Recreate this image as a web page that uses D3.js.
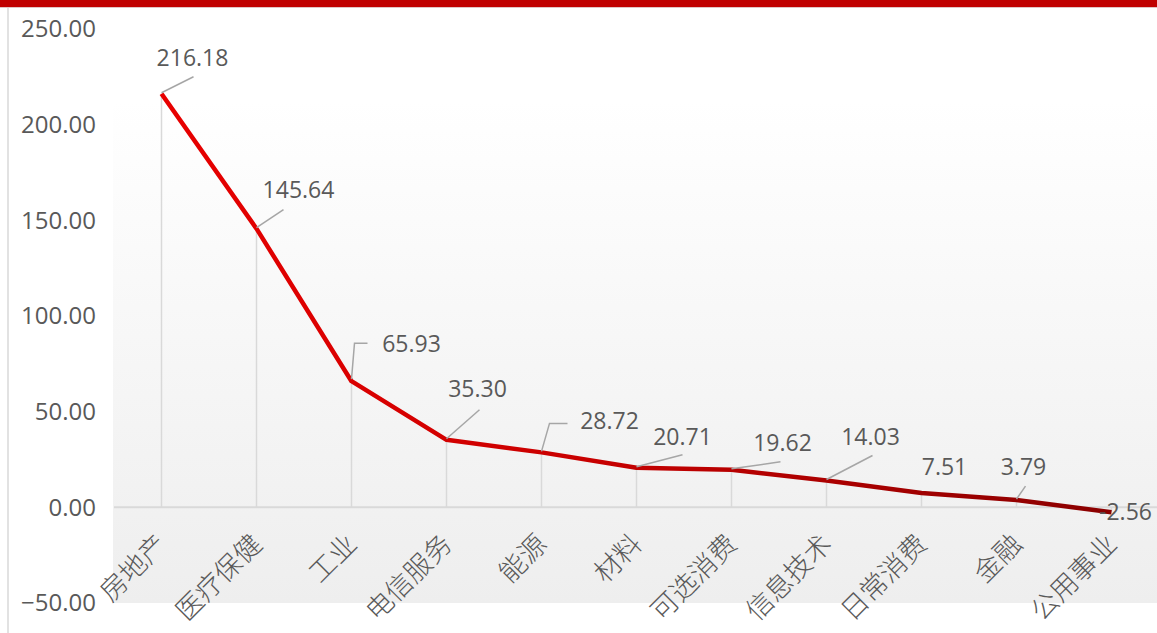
<!DOCTYPE html>
<html>
<head>
<meta charset="utf-8">
<script src="https://cdn.jsdelivr.net/npm/d3@7"></script>
<style>
  html, body { margin: 0; padding: 0; background: #fff; }
  svg { display: block; }
</style>
</head>
<body>
<div id="viz"></div>
<script>
// data
var categories = ['房地产', '医疗保健', '工业', '电信服务', '能源', '材料', '可选消费', '信息技术', '日常消费', '金融', '公用事业'];
var values = [216.18, 145.64, 65.93, 35.30, 28.72, 20.71, 19.62, 14.03, 7.51, 3.79, -2.56];
var yTicks = [-50, 0, 50, 100, 150, 200, 250];

// label placement (label centre offset from point) and leader line shapes
var labelOffsets = [[31, -36], [42, -39], [60, -37], [31, -51], [68, -31], [46, -31], [51, -27], [44, -44], [23, -26], [7, -33], [14, 0]];
var leaders = [
  [[0, -1], [32, -17]],
  [[0, -1], [27, -19]],
  [[0, -2], [3, -38], [16, -38]],
  [[0, -1], [33, -30]],
  [[0, -1], [8, -29], [26, -29]],
  [[0, -1], [46, -13]],
  [[0, -1], [49, -8]],
  [[0, -1], [46, -25]],
  null,
  [[0, -1], [9, -14]],
  null
];

var W = 1157, H = 633;
var plot = { left: 114, right: 1159, top: 100, bottom: 603 };

var svg = d3.select('#viz').append('svg')
  .attr('width', W)
  .attr('height', H);

var defs = svg.append('defs');
var bg = defs.append('linearGradient').attr('id', 'bgGrad')
  .attr('x1', 0).attr('y1', 0).attr('x2', 0).attr('y2', 1);
bg.append('stop').attr('offset', '0%').attr('stop-color', '#ffffff');
bg.append('stop').attr('offset', '100%').attr('stop-color', '#eeeeee');

var x = d3.scaleBand().domain(categories).range([plot.left, plot.right]);
var y = d3.scaleLinear().domain([-50, 250]).range([603, 29]);
var cx = function (d, i) { return x(categories[i]) + x.bandwidth() / 2; };

var lg = defs.append('linearGradient').attr('id', 'lineGrad')
  .attr('gradientUnits', 'userSpaceOnUse')
  .attr('x1', cx(0, 0)).attr('y1', 0)
  .attr('x2', cx(0, categories.length - 1)).attr('y2', 0);
lg.append('stop').attr('offset', '0%').attr('stop-color', '#e80000');
lg.append('stop').attr('offset', '45%').attr('stop-color', '#c80000');
lg.append('stop').attr('offset', '100%').attr('stop-color', '#8a0000');

// frame bits
svg.append('rect').attr('x', 0).attr('y', 0).attr('width', W).attr('height', 7).attr('fill', '#c00000');
svg.append('line').attr('x1', 0).attr('x2', W).attr('y1', 7.5).attr('y2', 7.5).attr('stroke', '#e2c4c4').attr('stroke-width', 1);
svg.append('line').attr('x1', 8).attr('x2', 8).attr('y1', 8).attr('y2', H).attr('stroke', '#d9d9d9').attr('stroke-width', 1.5);

svg.append('rect')
  .attr('x', plot.left - 1).attr('y', plot.top)
  .attr('width', W - plot.left + 1).attr('height', plot.bottom - plot.top)
  .attr('fill', 'url(#bgGrad)');

// y axis
var yAxis = d3.axisLeft(y).tickValues(yTicks).tickFormat(d3.format('.2f')).tickSize(0).tickPadding(0);
var ga = svg.append('g').attr('transform', 'translate(96,0)').call(yAxis);
ga.select('.domain').remove();
ga.selectAll('text')
  .attr('fill', '#595959')
  .style('font-family', '"Open Sans", sans-serif')
  .style('font-size', '24px');

// drop lines
svg.append('g').selectAll('line').data(values).enter().append('line')
  .attr('x1', cx).attr('x2', cx)
  .attr('y1', function (d) { return y(d); })
  .attr('y2', y(0))
  .attr('stroke', '#d9d9d9')
  .attr('stroke-width', 1.5);

// zero line
svg.append('line')
  .attr('x1', plot.left).attr('x2', W)
  .attr('y1', y(0)).attr('y2', y(0))
  .attr('stroke', '#d9d9d9').attr('stroke-width', 2);

// x labels
svg.append('g').selectAll('text').data(categories).enter().append('text')
  .attr('transform', function (d, i) { return 'translate(' + (cx(d, i) + 7) + ',546) rotate(-45)'; })
  .attr('text-anchor', 'end')
  .attr('fill', '#595959')
  .style('font-family', '"Noto Sans CJK SC", sans-serif')
  .style('font-weight', 300)
  .style('font-size', '27px')
  .text(function (d) { return d; });

// line
var line = d3.line()
  .x(function (d, i) { return cx(d, i); })
  .y(function (d) { return y(d); });
svg.append('path').datum(values)
  .attr('d', line)
  .attr('fill', 'none')
  .attr('stroke', 'url(#lineGrad)')
  .attr('stroke-width', 4.5)
  .attr('stroke-linejoin', 'round');

// leader lines
svg.append('g').selectAll('polyline').data(values).enter()
  .filter(function (d, i) { return leaders[i] != null; })
  .append('polyline')
  .attr('points', function (d) {
    var i = values.indexOf(d);
    var px = cx(d, i), py = y(d);
    return leaders[i].map(function (p) { return (px + p[0]) + ',' + (py + p[1]); }).join(' ');
  })
  .attr('fill', 'none')
  .attr('stroke', '#a6a6a6')
  .attr('stroke-width', 1.5);

// data labels
svg.append('g').selectAll('text').data(values).enter().append('text')
  .attr('x', function (d, i) { return cx(d, i) + labelOffsets[i][0]; })
  .attr('y', function (d, i) { return y(d) + labelOffsets[i][1]; })
  .attr('dy', '0.35em')
  .attr('text-anchor', 'middle')
  .attr('fill', '#595959')
  .style('font-family', '"Open Sans", sans-serif')
  .style('font-size', '23px')
  .text(function (d) { return d.toFixed(2); });
</script>
</body>
</html>
